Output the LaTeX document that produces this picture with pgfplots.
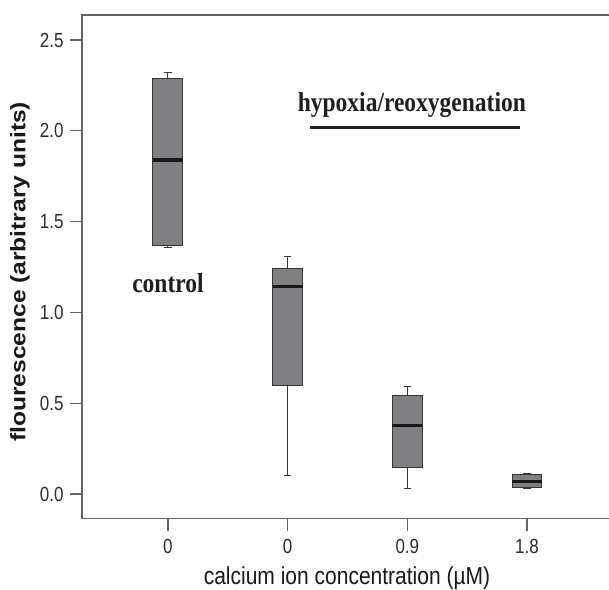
\documentclass[border=0pt]{standalone}
\usepackage{fontspec}
\usepackage{graphicx}
\usepackage{pgfplots}
\pgfplotsset{compat=1.18}
\usepgfplotslibrary{statistics}
\setmainfont{Liberation Serif}
\newfontfamily\arial{Liberation Sans}
\definecolor{boxfill}{RGB}{128,128,131}
\definecolor{boxdraw}{RGB}{55,55,55}
\definecolor{axgray}{RGB}{100,100,100}
\definecolor{txt}{RGB}{45,45,45}
\begin{document}
\begin{tikzpicture}[x=1pt,y=1pt]
\path[use as bounding box] (0,0) rectangle (609,589);
\begin{axis}[
  at={(82pt,70.3pt)}, anchor=south west,
  scale only axis, width=530pt, height=503.7pt,
  xmin=-0.718, xmax=3.71, ymin=-0.136, ymax=2.638,
  axis line style={axgray, line width=1.2pt},
  tick style={axgray, line width=1.2pt},
  tick align=outside, major tick length=12pt,
  xtick pos=bottom, ytick pos=left,
  xtick={0,1,2,3},
  xticklabels={{\scalebox{1}[1.2]{0}},{\scalebox{1}[1.2]{0}},{\scalebox{1}[1.2]{0.9}},{\scalebox{1}[1.2]{1.8}}},
  ytick={0,0.5,1,1.5,2,2.5},
  yticklabel={\scalebox{1}[1.2]{\pgfmathprintnumber[fixed,fixed zerofill,precision=1,assume math mode=true]{\tick}}},
  tick label style={font=\arial\fontsize{17}{19}\selectfont, text=txt},
  y tick label style={xshift=-3pt},
  x tick label style={yshift=-5pt},
  every axis x label/.style={at={(axis description cs:0.5,0)}, anchor=center, yshift=-59pt},
  every axis y label/.style={at={(axis description cs:-0.117,0.49)}, rotate=90, anchor=center},
  xlabel={\scalebox{1}[1.17]{calcium ion concentration (µM)}},
  ylabel={\scalebox{1.17}[1]{flourescence (arbitrary units)}},
  xlabel style={font=\arial\fontsize{21}{24}\selectfont, text=black!90},
  ylabel style={font=\arial\bfseries\fontsize{21}{24}\selectfont, text=black!90},
  boxplot/draw direction=y,
  boxplot/every median/.style={draw=black!90, line width=3.2pt},
  boxplot/box extend=0.25,
  boxplot/whisker extend=0.06,
  clip=false,
]
\addplot[boxplot prepared={draw position=0, lower whisker=1.356, lower quartile=1.367, median=1.839, upper quartile=2.289, upper whisker=2.324}, fill=boxfill, draw=boxdraw, line width=1pt] coordinates {};
\addplot[boxplot prepared={draw position=1, lower whisker=0.101, lower quartile=0.600, median=1.142, upper quartile=1.243, upper whisker=1.307}, fill=boxfill, draw=boxdraw, line width=1pt] coordinates {};
\addplot[boxplot prepared={draw position=2, lower whisker=0.031, lower quartile=0.145, median=0.378, upper quartile=0.545, upper whisker=0.591}, fill=boxfill, draw=boxdraw, line width=1pt] coordinates {};
\addplot[boxplot prepared={draw position=3, lower whisker=0.031, lower quartile=0.037, median=0.070, upper quartile=0.105, upper whisker=0.112}, fill=boxfill, draw=boxdraw, line width=1pt] coordinates {};
\addplot[line width=3pt, color=black!88, forget plot] coordinates {(1.186,2.017) (2.94,2.017)};
\node[anchor=base, font=\bfseries\fontsize{23.5}{26}\selectfont, text=black!88] at (axis cs:2.038,2.109) {\scalebox{1}[1.17]{hypoxia/reoxygenation}};
\node[anchor=base, font=\bfseries\fontsize{23.5}{26}\selectfont, text=black!88] at (axis cs:0,1.107) {\scalebox{1}[1.17]{control}};
\end{axis}
\end{tikzpicture}
\end{document}
